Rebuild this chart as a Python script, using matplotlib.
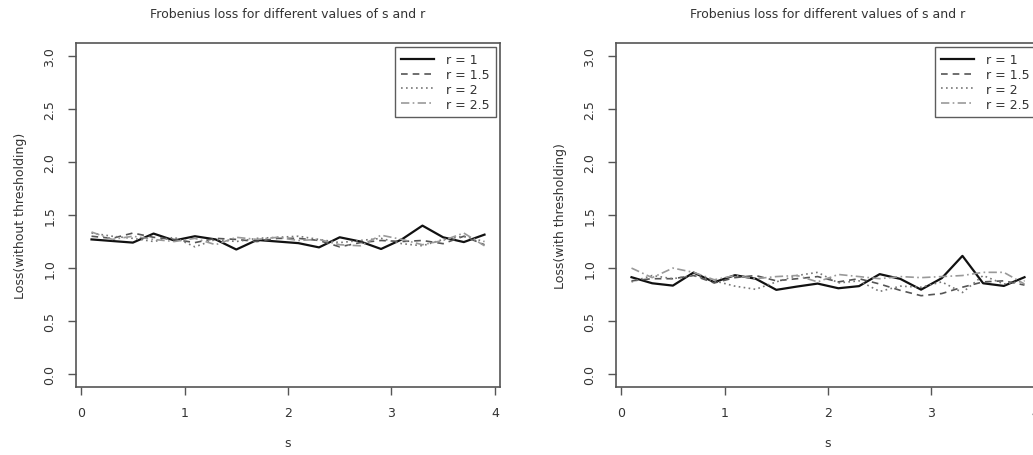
import numpy as np
import matplotlib
matplotlib.use("Agg")
import matplotlib.pyplot as plt

# s grid and loss values
s = [0.1, 0.3, 0.5, 0.7, 0.9, 1.1, 1.3, 1.5, 1.7, 1.9,
     2.1, 2.3, 2.5, 2.7, 2.9, 3.1, 3.3, 3.5, 3.7, 3.9]
r_labels = ["r = 1", "r = 1.5", "r = 2", "r = 2.5"]

# left: without thresholding
loss_raw_r1 = [1.27, 1.255, 1.24, 1.325, 1.26, 1.30, 1.27, 1.175, 1.265, 1.25,
               1.235, 1.195, 1.29, 1.25, 1.18, 1.27, 1.40, 1.29, 1.245, 1.315]
loss_raw_r15 = [1.30, 1.28, 1.33, 1.29, 1.27, 1.24, 1.28, 1.27, 1.25, 1.28,
                1.28, 1.26, 1.20, 1.24, 1.26, 1.25, 1.26, 1.23, 1.30, 1.22]
loss_raw_r2 = [1.33, 1.30, 1.28, 1.25, 1.29, 1.20, 1.27, 1.25, 1.28, 1.29,
               1.30, 1.27, 1.24, 1.26, 1.28, 1.23, 1.21, 1.27, 1.30, 1.25]
loss_raw_r25 = [1.34, 1.27, 1.30, 1.27, 1.25, 1.28, 1.22, 1.29, 1.27, 1.29,
                1.26, 1.27, 1.22, 1.21, 1.31, 1.27, 1.22, 1.26, 1.33, 1.21]

# right: with thresholding
loss_thr_r1 = [0.914, 0.857, 0.835, 0.958, 0.867, 0.933, 0.90, 0.795, 0.826, 0.854,
               0.81, 0.83, 0.943, 0.898, 0.797, 0.905, 1.115, 0.857, 0.832, 0.914]
loss_thr_r15 = [0.88, 0.90, 0.90, 0.93, 0.86, 0.91, 0.93, 0.88, 0.90, 0.92,
                0.87, 0.90, 0.85, 0.79, 0.74, 0.76, 0.82, 0.87, 0.88, 0.84]
loss_thr_r2 = [0.87, 0.93, 0.90, 0.93, 0.88, 0.83, 0.80, 0.87, 0.93, 0.96,
               0.86, 0.88, 0.78, 0.83, 0.82, 0.87, 0.77, 0.93, 0.85, 0.88]
loss_thr_r25 = [1.00, 0.91, 1.00, 0.96, 0.89, 0.93, 0.90, 0.92, 0.93, 0.87,
                0.94, 0.92, 0.90, 0.92, 0.91, 0.92, 0.93, 0.96, 0.96, 0.85]

STYLES = [("#111111", "-", 1.6),
          ("#555555", (0, (4, 3)), 1.2),
          ("#777777", (0, (1, 2)), 1.2),
          ("#999999", (0, (5, 2, 1, 2)), 1.2)]
AX_COL = "#555555"
TXT_COL = "#333333"

W, H = 1033, 456
fig = plt.figure(figsize=(W / 100, H / 100), dpi=100)

panels = [
    (76, [loss_raw_r1, loss_raw_r15, loss_raw_r2, loss_raw_r25], "Loss(without thresholding)"),
    (616, [loss_thr_r1, loss_thr_r15, loss_thr_r2, loss_thr_r25], "Loss(with thresholding)"),
]

for left_px, series, ylab in panels:
    ax = fig.add_axes([left_px / W, (H - 388) / H, 424 / W, 344 / H])
    for ys, (col, ls, lw), lab in zip(series, STYLES, r_labels):
        ax.plot(s, ys, color=col, linestyle=ls, linewidth=lw, label=lab)
    ax.set_xlim(-0.05, 4.05)
    ax.set_ylim(-0.12, 3.12)
    ax.set_xticks([0, 1, 2, 3, 4])
    ax.set_yticks([0.0, 0.5, 1.0, 1.5, 2.0, 2.5, 3.0])
    ax.set_yticklabels(["0.0", "0.5", "1.0", "1.5", "2.0", "2.5", "3.0"],
                       rotation=90, va="center")
    ax.tick_params(colors=AX_COL, labelcolor=TXT_COL, labelsize=9, length=6,
                   width=1)
    ax.tick_params(axis="x", pad=8)
    ax.tick_params(axis="y", pad=8)
    for sp in ax.spines.values():
        sp.set_color(AX_COL)
        sp.set_linewidth(1.2)
    ax.set_xlabel("s", color=TXT_COL, fontsize=9, labelpad=12)
    ax.set_ylabel(ylab, color=TXT_COL, fontsize=9, labelpad=12)
    ax.set_title("Frobenius loss for different values of s and r",
                 color=TXT_COL, fontsize=9, pad=19)
    leg = ax.legend(loc="upper right", fontsize=9, frameon=True, fancybox=False,
                    borderaxespad=0.3, handlelength=2.6, labelspacing=0.15,
                    borderpad=0.5, handletextpad=1.0)
    leg.get_frame().set_edgecolor("#333333")
    leg.get_frame().set_linewidth(1.0)
    for t in leg.get_texts():
        t.set_color(TXT_COL)

fig.savefig("out.png", dpi=100)
